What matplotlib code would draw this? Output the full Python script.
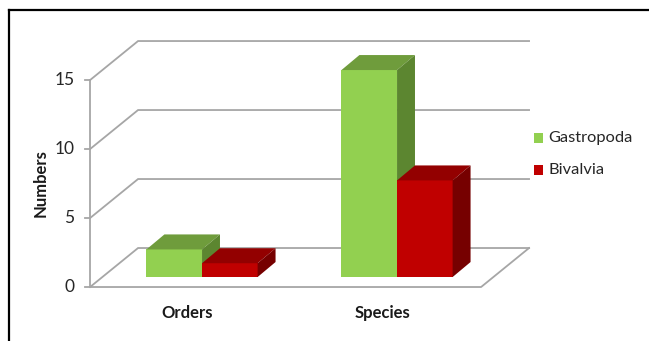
import matplotlib
matplotlib.use("Agg")
import matplotlib.pyplot as plt
from matplotlib.patches import Polygon, Rectangle
from matplotlib.lines import Line2D

categories = ["Orders", "Species"]
series_names = ["Gastropoda", "Bivalvia"]
gastropoda = [2, 15]
bivalvia = [1, 7]
yticks = [0, 5, 10, 15]

front_cols = ["#92D050", "#C00000"]
top_cols = ["#6F9C3C", "#930000"]
side_cols = ["#5C8630", "#760000"]

W, H = 649, 341
fig = plt.figure(figsize=(W / 100, H / 100), dpi=100)
ax = fig.add_axes([0, 0, 1, 1])
ax.set_xlim(-1.036, 2.292)
ax.set_ylim(-3.913, 20.80)
ax.axis("off")

font = ["Lato", "DejaVu Sans"]
grid_c = "#A6A6A6"
# wall / floor geometry (data units)
x_front_left = -0.574
x_front_right = 1.431
ddx, ddy = 0.246, 2.826  # full depth offset

# gridlines on back wall with diagonals on side
for t in yticks:
    ax.plot([x_front_left, x_front_left + ddx, x_front_right + ddx],
            [t, t + ddy, t + ddy], color=grid_c, lw=1.3, zorder=1,
            solid_joinstyle="miter")
# floor front edge and right edge
ax.plot([x_front_left, x_front_right, x_front_right + ddx],
        [0, 0, ddy], color=grid_c, lw=1.3, zorder=1)
# front value axis
ax.plot([x_front_left, x_front_left], [0, max(yticks)], color=grid_c, lw=1.3, zorder=1)
for t in yticks:
    ax.plot([x_front_left - 0.025, x_front_left], [t, t], color=grid_c, lw=1.3, zorder=1)
    ax.text(x_front_left - 0.08, t, str(t), ha="right", va="center",
            fontsize=12.5, color="#262626", family=font)

ax.text(-0.83, 7.5, "Numbers", rotation=90, ha="center", va="center",
        fontsize=12, fontweight="bold", color="#1a1a1a", family=font)

# bars
f0 = 0.256
base = ddy * f0  # front-face base height
bdx, bdy = 0.092, 1.087
bw = 0.285
for ci in range(len(categories)):
    for si, vals in enumerate([gastropoda, bivalvia]):
        x0 = ci - bw + si * bw
        v = vals[ci]
        y0 = base
        y1 = base + v
        # front
        ax.add_patch(Rectangle((x0, y0), bw, v, facecolor=front_cols[si],
                               edgecolor="none", zorder=3 + si))
        # top
        ax.add_patch(Polygon([(x0, y1), (x0 + bw, y1), (x0 + bw + bdx, y1 + bdy),
                              (x0 + bdx, y1 + bdy)], closed=True,
                             facecolor=top_cols[si], edgecolor="none", zorder=3 + si))
        # side
        ax.add_patch(Polygon([(x0 + bw, y0), (x0 + bw + bdx, y0 + bdy),
                              (x0 + bw + bdx, y1 + bdy), (x0 + bw, y1)], closed=True,
                             facecolor=side_cols[si], edgecolor="none", zorder=3 + si))
    ax.text(ci - 0.075, -1.9, categories[ci], ha="center", va="center",
            fontsize=12, fontweight="bold", color="#1a1a1a", family=font)

# legend
leg_y = [10.8, 8.5]
for si, name in enumerate(series_names):
    ax.add_patch(Rectangle((1.703, leg_y[si] - 0.36), 0.047, 0.72,
                           facecolor=front_cols[si], edgecolor="none"))
    ax.text(1.775, leg_y[si], name, ha="left", va="center", fontsize=11.8,
            color="#262626", family=font)

# chart border (top & left)
fig.add_artist(Line2D([9 / W, 1.0], [1 - 10 / H, 1 - 10 / H], color="black",
                      lw=1.6, transform=fig.transFigure))
fig.add_artist(Line2D([9 / W, 9 / W], [0, 1 - 10 / H], color="black",
                      lw=1.6, transform=fig.transFigure))

fig.savefig("out.png", dpi=100)
